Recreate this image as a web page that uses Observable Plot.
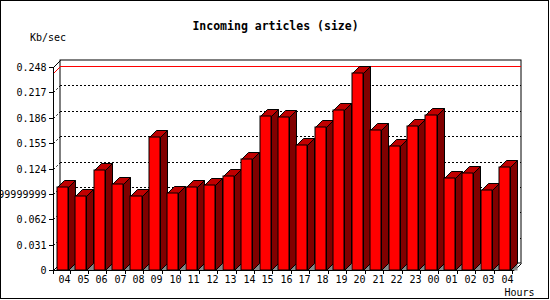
<!DOCTYPE html>
<html><head><meta charset="utf-8">
<script src="https://cdn.jsdelivr.net/npm/d3@7"></script>
<script src="https://cdn.jsdelivr.net/npm/@observablehq/plot@0.6"></script>
<style>html,body{margin:0;padding:0;background:#fff;overflow:hidden} svg{display:block}</style>
</head><body><div id="chart"></div>
<script>
const hours = ["04","05","06","07","08","09","10","11","12","13","14","15","16","17","18","19","20","21","22","23","00","01","02","03","04"];
const values = [0.102,0.090,0.1216,0.1045,0.090,0.1619,0.0936,0.1009,0.1033,0.1143,0.1362,0.1887,0.1875,0.1521,0.1753,0.196,0.2412,0.1716,0.1509,0.1765,0.1899,0.1118,0.118,0.0972,0.1253];
const yTicks = [0,0.031,0.062,0.093,0.124,0.155,0.186,0.217,0.248];
const yTickLabels = ["0","0.031","0.062","0.09299999999","0.124","0.155","0.186","0.217","0.248"];
const title = "Incoming articles (size)";
const yTitle = "Kb/sec";
const xTitle = "Hours";

const W = 550, H = 300, mL = 53, mR = 36, mT = 67, mB = 30;
const xDomain = [-0.5, hours.length - 0.5];
const yDomain = [0, 0.248];
const pxX = (W - mL - mR) / (xDomain[1] - xDomain[0]);
const pxY = (H - mT - mB) / (yDomain[1] - yDomain[0]);
const depthPx = 7;
const dX = depthPx / pxX, dY = depthPx / pxY;
const half = 0.3;
const vmax = d3.max(values);

const bars = values.map((v, i) => ({i, v, label: hours[i]}));
const poly = (pts, id) => pts.map(([x, y]) => ({id, x, y}));
const sides = bars.flatMap(b => poly([[b.i+half,0],[b.i+half,b.v],[b.i+half+dX,b.v+dY],[b.i+half+dX,dY],[b.i+half,0]], b.i));
const tops = bars.flatMap(b => poly([[b.i-half,b.v],[b.i-half+dX,b.v+dY],[b.i+half+dX,b.v+dY],[b.i+half,b.v],[b.i-half,b.v]], b.i));
const shadows = bars.flatMap(b => poly([[b.i+half,0],[b.i+half+dX,dY],[b.i+half+dX,0],[b.i+half,0]], b.i));
const xTickPos = [xDomain[0], ...bars.map(b => b.i + 0.4)];
const inner = yTicks.slice(1, -1);

const chart = Plot.plot({
  width: W, height: H,
  marginLeft: mL, marginRight: mR, marginTop: mT, marginBottom: mB,
  style: {fontFamily: "DejaVu Sans Mono", fontSize: "10px", background: "#fff", overflow: "visible"},
  x: {domain: xDomain, axis: null, round: true},
  y: {domain: yDomain, axis: null, round: true},
  marks: [
    // back wall
    Plot.rect([0], {x1: () => xDomain[0]+dX, x2: () => xDomain[1]+dX, y1: () => dY, y2: () => yDomain[1]+dY, fill: "white", stroke: "black", inset: 0}),
    // grid on back wall
    Plot.ruleY(inner, {y: d => d + dY, x1: xDomain[0]+dX, x2: xDomain[1]+dX, stroke: "black", strokeDasharray: "2,2"}),
    Plot.link(inner, {x1: () => xDomain[0], y1: d => d, x2: () => xDomain[0]+dX, y2: d => d + dY, stroke: "black", strokeDasharray: "2,2"}),
    // max line
    Plot.link([vmax], {x1: () => xDomain[0], y1: d => d, x2: () => xDomain[0]+dX, y2: d => d + dY, stroke: "red"}),
    Plot.ruleY([vmax], {y: d => d + dY, x1: xDomain[0]+dX, x2: xDomain[1]+dX, stroke: "red"}),
    // wall edges
    Plot.link([yDomain[1]], {x1: () => xDomain[0], y1: d => d, x2: () => xDomain[0]+dX, y2: d => d + dY, stroke: "black"}),
    Plot.link([0], {x1: () => xDomain[0], y1: d => d, x2: () => xDomain[0]+dX, y2: d => d + dY, stroke: "black"}),
    Plot.link([0], {x1: () => xDomain[1], y1: d => d, x2: () => xDomain[1]+dX, y2: d => d + dY, stroke: "black"}),
    // bars
    Plot.line(shadows, {x: "x", y: "y", z: "id", fill: "#888888", stroke: "none"}),
    Plot.line(sides, {x: "x", y: "y", z: "id", fill: "#800000", stroke: "black", strokeWidth: 1, strokeLinejoin: "miter"}),
    Plot.line(tops, {x: "x", y: "y", z: "id", fill: "#c00000", stroke: "black", strokeWidth: 1, strokeLinejoin: "miter"}),
    Plot.rect(bars, {x1: d => d.i - half, x2: d => d.i + half, y1: () => 0, y2: "v", fill: "#ff0000", stroke: "black", inset: 0}),
    // front axes
    Plot.ruleX([xDomain[0]], {y1: yDomain[0], y2: yDomain[1], stroke: "black"}),
    Plot.ruleY([0], {x1: xDomain[0], x2: xDomain[1], stroke: "black"}),
    Plot.axisY(yTicks, {anchor: "left", tickSize: 4, tickPadding: 3, tickFormat: d => yTickLabels[yTicks.indexOf(d)], label: null, fill: "black", stroke: "black"}),
    Plot.axisX(xTickPos, {anchor: "bottom", tickSize: 4, tickFormat: () => "", label: null, stroke: "black"}),
    Plot.text(bars, {x: "i", y: () => 0, text: "label", dx: 2, dy: 9.5, fill: "black"}),
    // titles
    Plot.text([title], {frameAnchor: "top", dx: -8.5, dy: -41, textAnchor: "middle", lineAnchor: "middle", fontWeight: "bold", fontSize: 11.5, fill: "black"}),
    Plot.text([yTitle], {frameAnchor: "top-left", dx: -5.5, dy: -30, textAnchor: "middle", lineAnchor: "middle", fill: "black"}),
    Plot.text([xTitle], {frameAnchor: "bottom-right", dx: 20, dy: 22, textAnchor: "end", lineAnchor: "middle", fill: "black"})
  ]
});
d3.select(chart).append("rect").attr("x", 0.5).attr("y", 0.5).attr("width", W - 2).attr("height", H - 2).attr("fill", "none").attr("stroke", "black");
document.getElementById("chart").appendChild(chart);
</script>
</body></html>
